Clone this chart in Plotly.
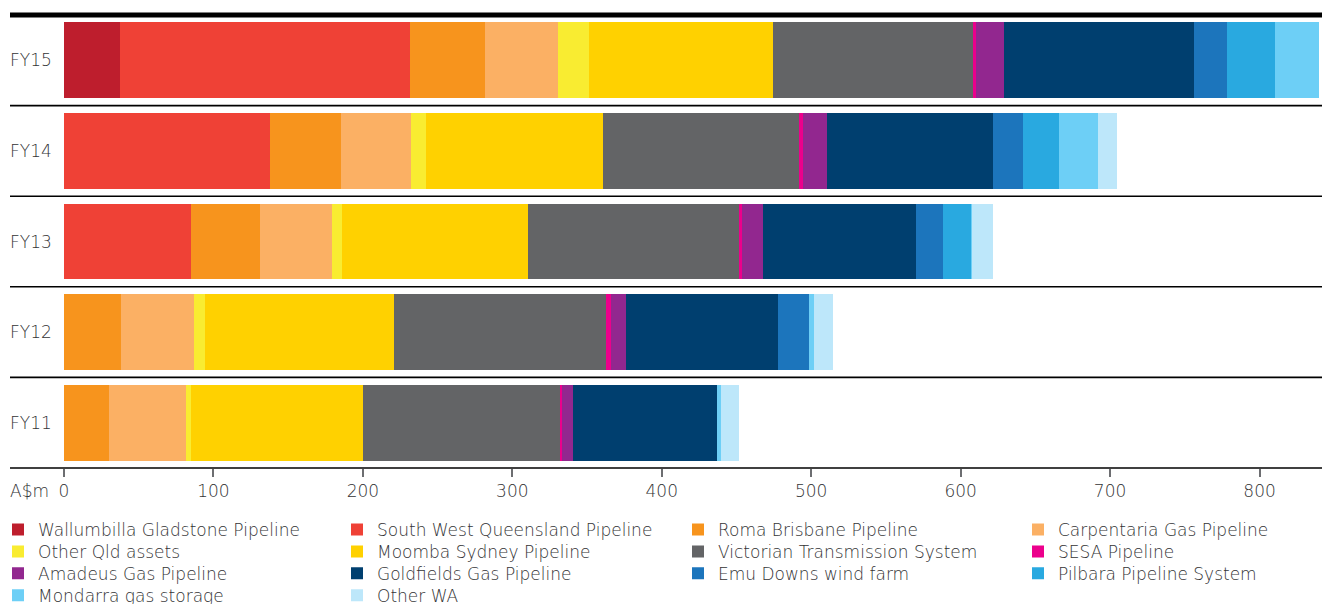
import plotly.graph_objects as go

categories = ['FY15', 'FY14', 'FY13', 'FY12', 'FY11']

series_names = [
    'Wallumbilla Gladstone Pipeline', 'South West Queensland Pipeline',
    'Roma Brisbane Pipeline', 'Carpentaria Gas Pipeline',
    'Other Qld assets', 'Moomba Sydney Pipeline',
    'Victorian Transmission System', 'SESA Pipeline',
    'Amadeus Gas Pipeline', 'Goldfields Gas Pipeline',
    'Emu Downs wind farm', 'Pilbara Pipeline System',
    'Mondarra gas storage', 'Other WA',
]

wallumbilla = [37.5, 0, 0, 0, 0]
swqp = [194.0, 137.7, 85.0, 0, 0]
roma = [50.2, 47.6, 46.2, 38.0, 30.1]
carpentaria = [48.8, 46.8, 48.2, 49.0, 51.5]
other_qld = [20.8, 10.1, 6.8, 7.4, 3.4]
moomba = [123.0, 118.5, 124.1, 126.3, 114.9]
victorian = [133.7, 130.8, 141.4, 141.8, 132.3]
sesa = [2.2, 3.0, 1.8, 3.4, 1.1]
amadeus = [18.7, 15.8, 14.4, 10.0, 7.5]
goldfields = [127.5, 111.2, 102.2, 101.7, 96.4]
emu_downs = [22.0, 20.0, 18.1, 20.7, 0]
pilbara = [31.8, 24.0, 18.9, 0, 0]
mondarra = [29.5, 26.2, 0.7, 3.4, 2.7]
other_wa = [0, 12.6, 13.8, 12.7, 12.0]

series_values = [wallumbilla, swqp, roma, carpentaria, other_qld, moomba,
                 victorian, sesa, amadeus, goldfields, emu_downs, pilbara,
                 mondarra, other_wa]

colors = ['#be1e2d', '#ef4136', '#f7941d', '#fbb064', '#f9ec31', '#ffd100',
          '#636466', '#ec008c', '#92278f', '#003f6f', '#1c75bc', '#29a9e0',
          '#6dcff6', '#bde7fa']

x_ticks = [0, 100, 200, 300, 400, 500, 600, 700, 800]
x_max = 841.8
axis_unit = 'A$m'

FONT = 'DejaVu Sans'
TXT = '#333335'
WEIGHT = 300

W, H = 1322, 604
ml, mr, mt, mb = 64, 0, 15, 136
pw = W - ml - mr
ph = H - mt - mb
left_px = 10
x_left = (left_px - ml) / pw
x_text = (left_px - 2 - ml) / pw

# legend grid: 4 columns, rows spaced like the reference
legend_font = 17
col_px = [-2, 337, 678, 1018]
row_center_px = [529.5, 551.4, 573.3, 595.2]
item_h = legend_font * 1.3 + 3

fig = go.Figure()
legend_cfg = {}
for i, (name, vals, col) in enumerate(zip(series_names, series_values, colors)):
    lid = 'legend' if i == 0 else 'legend%d' % (i + 1)
    fig.add_trace(go.Bar(
        y=categories, x=vals, name=name, orientation='h',
        marker=dict(color=col, line=dict(width=0)), width=0.835,
        legend=lid,
    ))
    r, c = divmod(i, 4)
    top_px = row_center_px[r] - (item_h / 2 + 5)
    legend_cfg[lid] = dict(
        orientation='v', x=(col_px[c] - ml) / pw, xanchor='left',
        y=(ph - (top_px - mt)) / ph, yanchor='top',
        font=dict(family=FONT, size=legend_font, color=TXT, weight=WEIGHT),
        bgcolor='rgba(0,0,0,0)', itemclick=False, itemdoubleclick=False,
    )

shapes = []
for i in range(len(categories) - 1):
    shapes.append(dict(type='line', xref='paper', yref='y', x0=x_left, x1=1,
                       y0=i + 0.5, y1=i + 0.5, line=dict(color='black', width=1.6)))
shapes.append(dict(type='line', xref='paper', yref='paper', x0=x_left, x1=1,
                   y0=1, y1=1, line=dict(color='black', width=5)))
shapes.append(dict(type='line', xref='paper', yref='paper', x0=x_left, x1=1,
                   y0=0, y1=0, line=dict(color='black', width=1.6)))

annotations = []
for c in categories:
    annotations.append(dict(text=c, xref='paper', yref='y', x=x_text, y=c,
                            xanchor='left', yanchor='middle', showarrow=False,
                            font=dict(family=FONT, size=17, color=TXT, weight=WEIGHT)))
annotations.append(dict(text=axis_unit, xref='paper', yref='paper', x=x_text,
                        y=(0 - 23.5) / ph, xanchor='left', yanchor='middle',
                        showarrow=False,
                        font=dict(family=FONT, size=17, color=TXT, weight=WEIGHT)))

fig.update_layout(
    width=W, height=H,
    margin=dict(l=ml, r=mr, t=mt, b=mb, pad=0, autoexpand=False),
    barmode='stack', bargap=0,
    plot_bgcolor='white', paper_bgcolor='white',
    font=dict(family=FONT, size=17, color=TXT, weight=WEIGHT),
    xaxis=dict(range=[0, x_max], tickvals=x_ticks, ticktext=[str(v) for v in x_ticks],
               ticks='outside', ticklen=8, tickwidth=1.5, tickcolor='#6d6e71',
               showgrid=False, zeroline=False, showline=False,
               tickfont=dict(family=FONT, size=17, color=TXT, weight=WEIGHT),
               fixedrange=True),
    yaxis=dict(autorange='reversed', showticklabels=False, ticks='',
               showgrid=False, zeroline=False, showline=False, fixedrange=True),
    showlegend=True,
    shapes=shapes, annotations=annotations,
    **legend_cfg,
)

fig.write_html('out.html')
